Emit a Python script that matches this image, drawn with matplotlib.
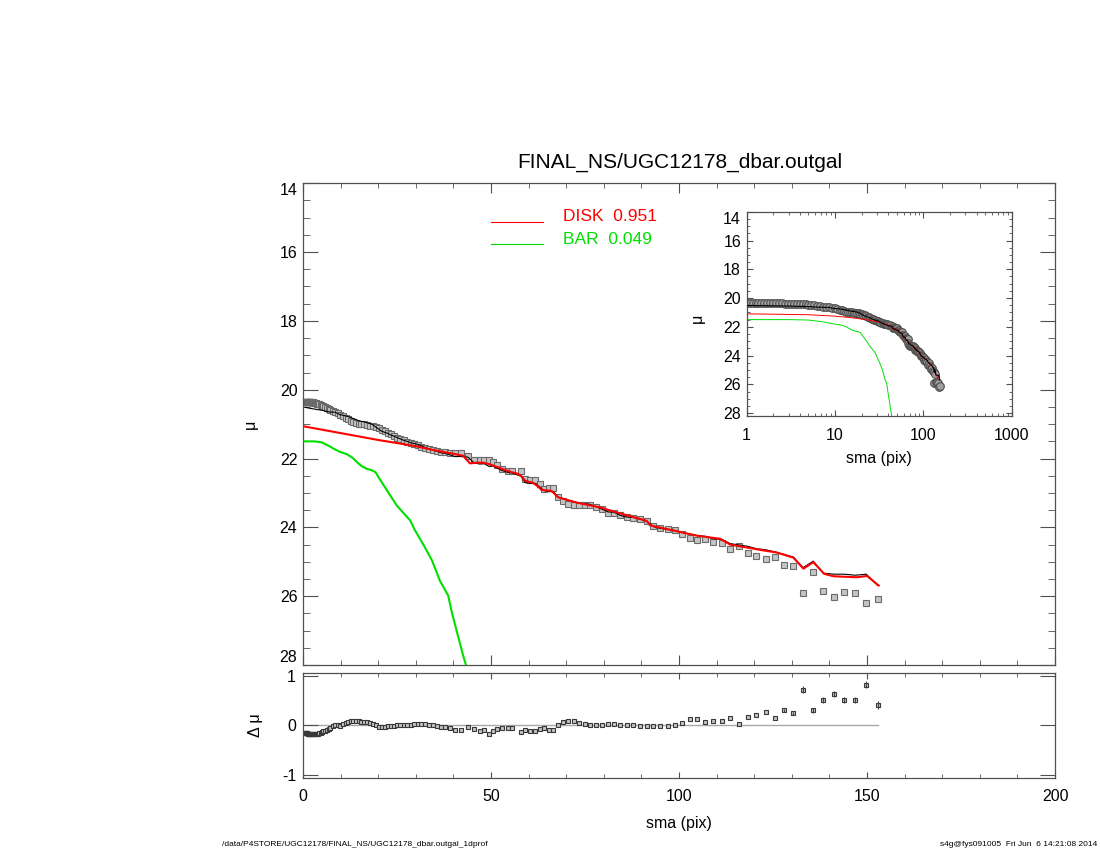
import numpy as np
import matplotlib
matplotlib.use("Agg")
import matplotlib.pyplot as plt
from matplotlib.ticker import MultipleLocator, FixedLocator, LogLocator, NullFormatter

plt.rcParams['font.family'] = ['Liberation Sans', 'DejaVu Sans']

# ---------------- data ----------------
sma = [0.5, 0.6, 0.7, 0.8, 0.9, 1.0, 1.08, 1.17, 1.26, 1.36,
       1.47, 1.59, 1.71, 1.85, 2.0, 2.16, 2.33, 2.52, 2.72, 2.94,
       3.17, 3.43, 3.7, 4.0, 4.3, 4.65, 5.0, 5.4, 5.8, 6.3,
       6.8, 7.3, 7.9, 8.5, 9.2, 9.9, 10.6, 11.3, 12.0, 12.7,
       13.4, 14.1, 14.8, 15.5, 16.2, 17.0, 17.8, 18.6, 19.4, 20.2,
       21.0, 21.8, 22.6, 23.4, 24.2, 25.0, 25.9, 26.8, 27.7, 28.6,
       29.5, 30.5, 31.5, 32.5, 33.5, 34.5, 35.6, 36.7, 37.8, 39.0,
       40.3, 41.9, 43.9, 45.4, 47.0, 48.2, 49.5, 50.5, 51.5, 53.0,
       54.4, 55.6, 57.9, 59.1, 60.4, 61.7, 62.9, 64.1, 65.3, 66.6,
       67.8, 69.1, 70.5, 72.0, 73.4, 74.9, 76.4, 77.9, 79.5, 81.1,
       82.7, 84.3, 86.1, 87.8, 89.6, 91.4, 93.2, 95.0, 97.0, 98.9,
       100.8, 102.8, 104.9, 107.0, 109.1, 111.4, 113.6, 116.0, 118.3, 120.6,
       123.0, 125.4, 127.8, 130.4, 133.0, 135.7, 138.4, 141.2, 143.9, 146.9,
       149.8, 152.8]

mu_obs = [20.36, 20.36, 20.36, 20.36, 20.36, 20.36, 20.36, 20.36, 20.36, 20.36,
          20.36, 20.36, 20.37, 20.37, 20.37, 20.37, 20.37, 20.37, 20.38, 20.38,
          20.38, 20.39, 20.40, 20.41, 20.42, 20.44, 20.46, 20.48, 20.51, 20.54,
          20.57, 20.60, 20.63, 20.65, 20.69, 20.72, 20.76, 20.81, 20.85, 20.90,
          20.94, 20.97, 20.99, 21.00, 21.01, 21.03, 21.04, 21.06, 21.09, 21.12,
          21.17, 21.21, 21.25, 21.30, 21.34, 21.39, 21.43, 21.47, 21.51, 21.55,
          21.58, 21.62, 21.66, 21.70, 21.73, 21.76, 21.78, 21.80, 21.81, 21.83,
          21.84, 21.85, 21.92, 22.05, 22.04, 22.05, 22.05, 22.10, 22.20, 22.30,
          22.35, 22.36, 22.37, 22.60, 22.61, 22.61, 22.75, 22.87, 22.86, 22.86,
          23.13, 23.23, 23.31, 23.35, 23.35, 23.34, 23.34, 23.41, 23.48, 23.58,
          23.58, 23.65, 23.70, 23.72, 23.75, 23.80, 23.97, 24.02, 24.05, 24.09,
          24.20, 24.32, 24.38, 24.33, 24.42, 24.44, 24.63, 24.54, 24.73, 24.84,
          24.92, 24.86, 25.09, 25.11, 25.90, 25.29, 25.85, 26.01, 25.87, 25.90,
          26.19, 26.09]

resid = [-0.15, -0.15, -0.15, -0.16, -0.16, -0.16, -0.16, -0.16, -0.17, -0.17,
         -0.17, -0.17, -0.17, -0.17, -0.17, -0.18, -0.18, -0.18, -0.18, -0.18,
         -0.18, -0.18, -0.18, -0.17, -0.16, -0.15, -0.14, -0.12, -0.11, -0.09,
         -0.07, -0.05, -0.02, 0.00, 0.00, -0.01, 0.02, 0.05, 0.07, 0.09,
         0.10, 0.10, 0.09, 0.08, 0.08, 0.07, 0.06, 0.04, 0.00, -0.03,
         -0.04, -0.03, -0.02, -0.02, -0.01, 0.00, 0.00, 0.00, 0.01, 0.01,
         0.02, 0.03, 0.03, 0.02, 0.01, 0.01, -0.01, -0.03, -0.04, -0.06,
         -0.10, -0.09, -0.04, -0.07, -0.12, -0.10, -0.18, -0.12, -0.07, -0.05,
         -0.05, -0.06, -0.14, -0.10, -0.11, -0.11, -0.07, -0.06, -0.10, -0.10,
         0.01, 0.07, 0.10, 0.10, 0.05, 0.03, 0.01, 0.01, 0.01, 0.03,
         0.02, 0.00, 0.00, 0.01, -0.01, -0.02, -0.01, -0.01, -0.01, 0.00,
         0.05, 0.13, 0.14, 0.07, 0.09, 0.09, 0.16, 0.03, 0.18, 0.22,
         0.27, 0.15, 0.31, 0.25, 0.73, 0.31, 0.52, 0.65, 0.51, 0.51,
         0.83, 0.41]

# error bars on the outermost residual points
err_tail = [0.03, 0.03, 0.07, 0.05, 0.06, 0.06, 0.06, 0.06, 0.07, 0.08]

disk_sma = [0.5, 5.0, 10.0, 15.0, 20.0, 25.0, 30.0, 35.0, 40.0, 42.6,
            44.4, 46.0, 48.0, 50.0, 51.5, 53.0, 55.0, 57.0, 58.0, 59.0,
            61.2, 62.6, 63.4, 66.1, 67.9, 72.8, 79.0, 83.0, 91.4, 92.3,
            98.5, 104.7, 110.9, 113.6, 122.5, 126.0, 130.4, 133.1, 135.7, 138.6,
            141.1, 147.3, 150.0, 153.1]
disk_mu = [21.07, 21.16, 21.26, 21.36, 21.46, 21.55, 21.64, 21.76, 21.86, 21.92,
           22.14, 22.12, 22.12, 22.18, 22.24, 22.30, 22.38, 22.44, 22.50, 22.64,
           22.71, 22.82, 22.91, 22.94, 23.13, 23.28, 23.42, 23.55, 23.81, 23.94,
           24.09, 24.24, 24.33, 24.50, 24.67, 24.73, 24.88, 25.20, 25.01, 25.35,
           25.42, 25.45, 25.41, 25.69]

bar_sma = [0.4, 3.0, 5.0, 7.0, 8.1, 9.7, 11.6, 13.2, 14.3, 15.6,
           17.0, 18.3, 19.3, 20.0, 22.3, 24.9, 28.5, 29.8, 32.0, 34.3,
           36.4, 38.6, 39.6, 41.2, 42.6, 43.4, 44.0]
bar_mu = [21.50, 21.50, 21.53, 21.64, 21.71, 21.80, 21.87, 21.98, 22.10, 22.22,
          22.30, 22.34, 22.40, 22.53, 22.92, 23.36, 23.80, 24.09, 24.50, 24.96,
          25.55, 25.98, 26.48, 27.15, 27.73, 28.02, 28.30]

disk_label = "DISK  0.951"
bar_label = "BAR  0.049"
title = "FINAL_NS/UGC12178_dbar.outgal"
foot_left = "/data/P4STORE/UGC12178/FINAL_NS/UGC12178_dbar.outgal_1dprof"
foot_right = "s4g@fys091005  Fri Jun  6 14:21:08 2014"

sma = np.array(sma)
mu_obs = np.array(mu_obs)
resid = np.array(resid)
mu_tot = mu_obs - resid   # model total = data - residual

RED = '#ff0000'
GREEN = '#00e000'
FRAME = '#505050'


def frame(a):
    for s in a.spines.values():
        s.set_color(FRAME)
        s.set_linewidth(0.9)


fig = plt.figure(figsize=(11, 8.5), dpi=100)

# ---------------- main panel ----------------
ax = fig.add_axes([0.2755, 0.2176, 0.6836, 0.5668])
ax.plot(sma, mu_obs, ls='none', marker='s', ms=4.0, mfc='#c4c4c4',
        mec='#6a6a6a', mew=0.8, zorder=2)
ax.plot(sma, mu_tot, color='black', lw=0.8, zorder=3)
ax.plot(disk_sma, disk_mu, color=RED, lw=1.5, zorder=4)
ax.plot(bar_sma, bar_mu, color=GREEN, lw=1.5, zorder=4)
ax.set_xlim(0, 200)
ax.set_ylim(28, 14)
ax.xaxis.set_major_locator(MultipleLocator(50))
ax.xaxis.set_minor_locator(MultipleLocator(10))
ax.yaxis.set_major_locator(FixedLocator([14, 16, 18, 20, 22, 24, 26, 28]))
ax.yaxis.set_minor_locator(MultipleLocator(0.5))
ax.tick_params(axis='both', which='both', direction='in', top=True, right=True,
               colors=FRAME, labelcolor='black', labelsize=11.5)
ax.tick_params(axis='y', which='major', length=10.5, pad=4)
ax.tick_params(axis='y', which='minor', length=5.2)
ax.tick_params(axis='x', which='major', length=7, labelbottom=False)
ax.tick_params(axis='x', which='minor', length=3.5)
ax.set_ylabel("μ", fontsize=11.5)
ax.yaxis.set_label_coords(-0.06, 0.5)
frame(ax)
# keep end labels inside the frame, as IDL does
yt = ax.yaxis.get_major_ticks()
yt[0].label1.set_va('top')
yt[-1].label1.set_va('bottom')

# legend drawn IDL style
ax.plot([0.25, 0.319], [0.919, 0.919], color=RED, lw=0.8, transform=ax.transAxes)
ax.plot([0.25, 0.319], [0.8734, 0.8734], color=GREEN, lw=0.8, transform=ax.transAxes)
ax.text(0.3457, 0.9307, disk_label, color=RED, fontsize=12.5, va='center',
        transform=ax.transAxes)
ax.text(0.3457, 0.8823, bar_label, color=GREEN, fontsize=12.5, va='center',
        transform=ax.transAxes)

fig.text(0.618, 1 - 168 / 850, title, ha='center', va='baseline', fontsize=15)

# ---------------- residual panel ----------------
axr = fig.add_axes([0.2755, 0.0844, 0.6836, 0.1242])
axr.plot(sma, np.zeros_like(sma), color='#a8a8a8', lw=1.0, zorder=1)
axr.plot(sma, resid, ls='none', marker='s', ms=3.3, mfc='#c4c4c4',
         mec='#383838', mew=0.8, zorder=2)
axr.errorbar(sma[-10:], resid[-10:], yerr=err_tail, fmt='none',
             ecolor='#404040', elinewidth=0.8, capsize=0, zorder=2)
axr.set_xlim(0, 200)
axr.set_ylim(-1.075, 1.075)
axr.xaxis.set_major_locator(MultipleLocator(50))
axr.xaxis.set_minor_locator(MultipleLocator(10))
axr.yaxis.set_major_locator(FixedLocator([-1, 0, 1]))
axr.tick_params(axis='both', which='both', direction='in', top=True, right=True,
                colors=FRAME, labelcolor='black', labelsize=11.5)
axr.tick_params(axis='y', which='major', length=10.5, pad=5)
axr.tick_params(axis='x', which='major', length=4, pad=8)
axr.tick_params(axis='x', which='minor', length=3)
axr.set_yticklabels(['-1', '0', '1'])
axr.set_ylabel("Δ μ", fontsize=11.5)
axr.yaxis.set_label_coords(-0.053, 0.5)
axr.set_xlabel("sma (pix)", fontsize=11.5)
axr.xaxis.set_label_coords(0.5, -0.36)
frame(axr)

# ---------------- inset, log scale ----------------
axi = fig.add_axes([0.6788, 0.5106, 0.2409, 0.2403])
axi.plot(sma, mu_obs, ls='none', marker='o', ms=5.5, mfc='#a0a0a0',
         mec='#505050', mew=0.8, zorder=2)
axi.plot(sma, mu_tot, color='black', lw=0.8, zorder=3)
axi.plot(disk_sma, disk_mu, color=RED, lw=0.7, zorder=2)
axi.plot(bar_sma, bar_mu, color=GREEN, lw=0.7, zorder=2)
axi.set_xscale('log')
axi.set_xlim(1, 1000)
axi.set_ylim(28.2, 14)
axi.xaxis.set_minor_locator(LogLocator(base=10, subs=np.arange(2, 10), numticks=10))
axi.xaxis.set_minor_formatter(NullFormatter())
axi.set_xticks([1, 10, 100, 1000])
axi.set_xticklabels(['1', '10', '100', '1000'])
axi.yaxis.set_major_locator(FixedLocator([14, 16, 18, 20, 22, 24, 26, 28]))
axi.yaxis.set_minor_locator(MultipleLocator(0.5))
axi.tick_params(axis='both', which='both', direction='in', top=True, right=True,
                colors=FRAME, labelcolor='black', labelsize=11.5)
axi.tick_params(axis='y', which='major', length=4, pad=4)
axi.tick_params(axis='y', which='minor', length=2)
axi.tick_params(axis='x', which='major', length=4, pad=9)
axi.tick_params(axis='x', which='minor', length=2)
axi.set_ylabel("μ", fontsize=11.5)
axi.yaxis.set_label_coords(-0.157, 0.48)
axi.set_xlabel("sma (pix)", fontsize=11.5)
axi.xaxis.set_label_coords(0.5, -0.17)
frame(axi)
it = axi.yaxis.get_major_ticks()
it[0].label1.set_va('top')

# ---------------- footer ----------------
fig.text(222 / 1100, 1 - 845 / 850, foot_left, fontsize=6, va='center',
         family=['Liberation Sans Narrow', 'Liberation Sans', 'DejaVu Sans'])
fig.text(1097 / 1100, 1 - 845 / 850, foot_right, fontsize=6, va='center', ha='right',
         family=['Liberation Sans Narrow', 'Liberation Sans', 'DejaVu Sans'])

fig.savefig('out.png', dpi=100)
